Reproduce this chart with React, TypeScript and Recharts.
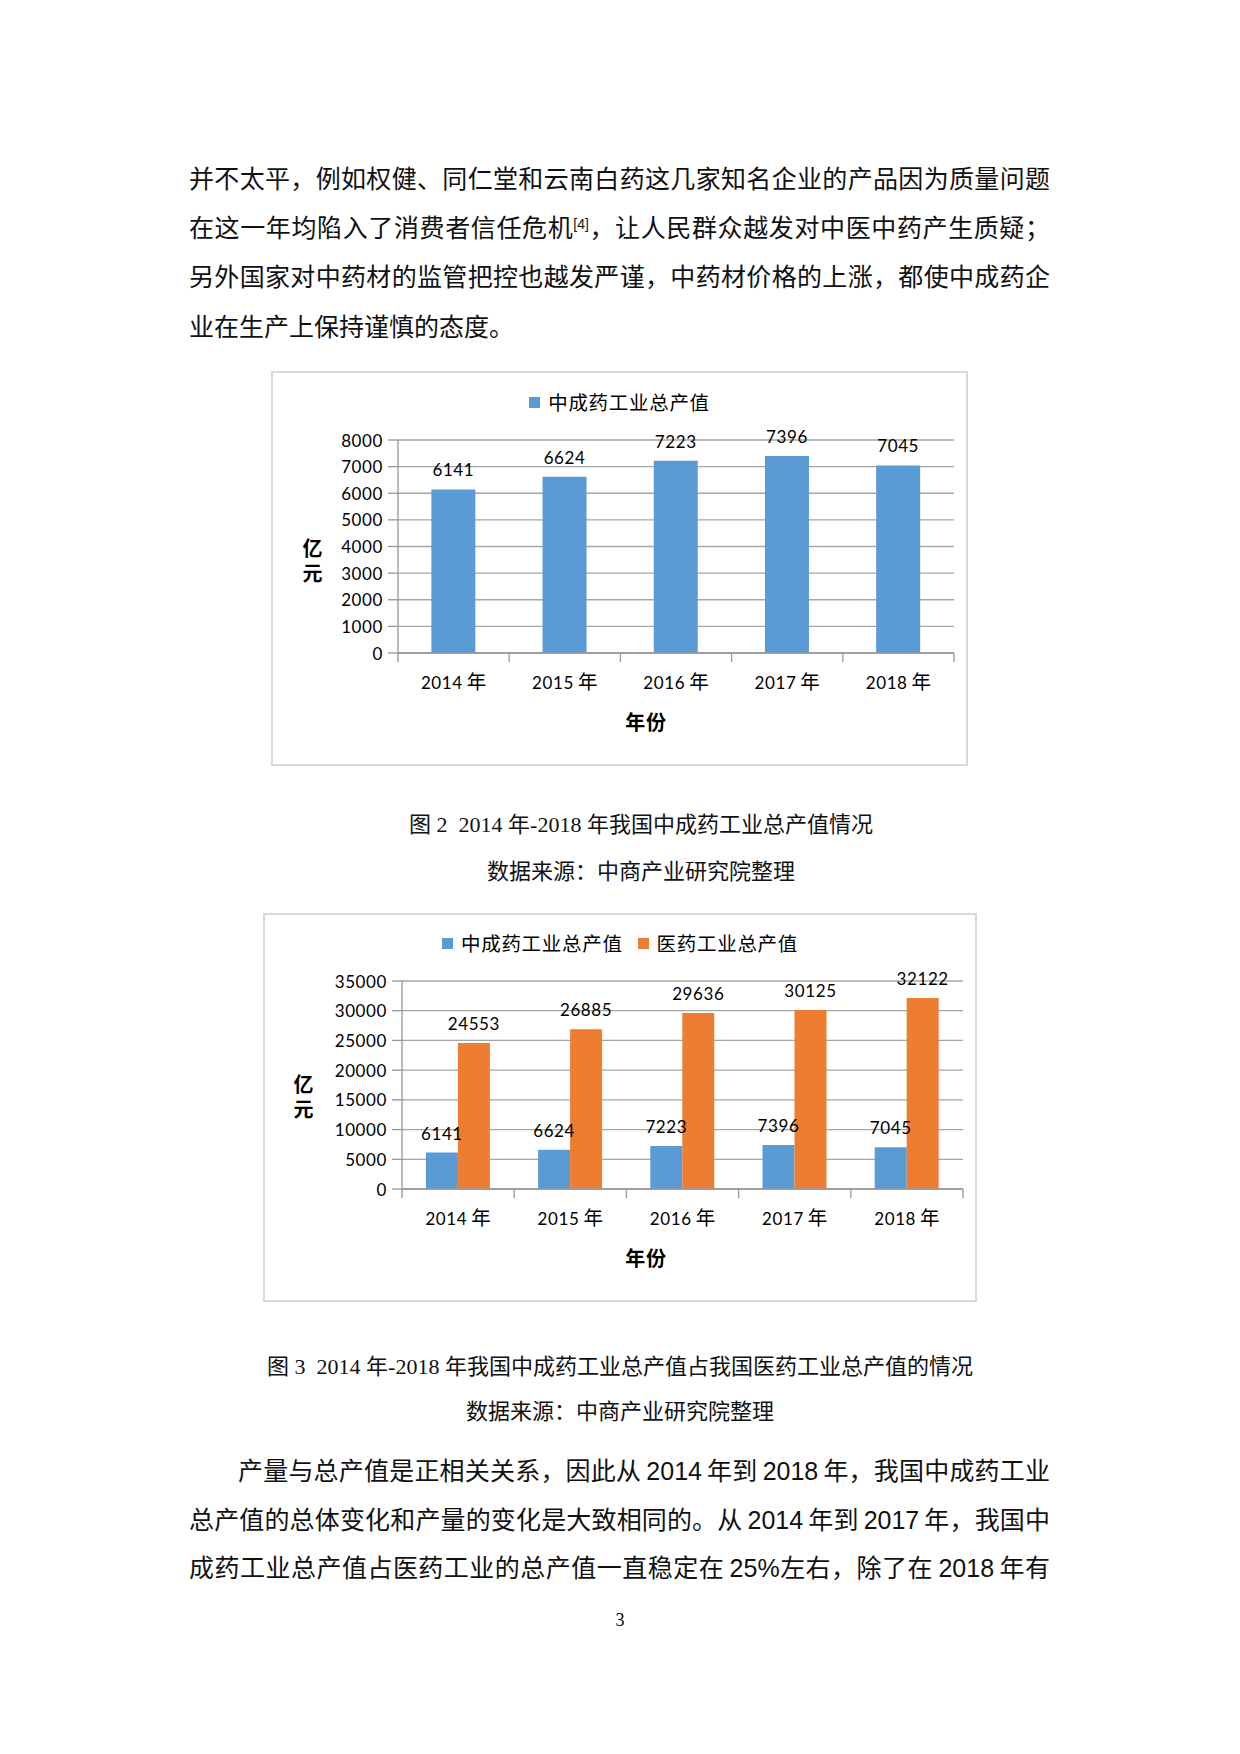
import React from 'react';
import { BarChart, Bar, XAxis, YAxis, CartesianGrid, LabelList } from 'recharts';

// data
const years = ['2014', '2015', '2016', '2017', '2018'];
const tcmOutput = [6141, 6624, 7223, 7396, 7045];
const pharmaOutput = [24553, 26885, 29636, 30125, 32122];
const fig2Ticks = [0, 1000, 2000, 3000, 4000, 5000, 6000, 7000, 8000];
const fig3Ticks = [0, 5000, 10000, 15000, 20000, 25000, 30000, 35000];
const tcmName = '中成药工业总产值';
const pharmaName = '医药工业总产值';
const unitLabel = '亿元';
const xTitle = '年份';

const topLines = [
  '并不太平，例如权健、同仁堂和云南白药这几家知名企业的产品因为质量问题',
  'SUP',
  '另外国家对中药材的监管把控也越发严谨，中药材价格的上涨，都使中成药企',
  '业在生产上保持谨慎的态度。',
];
const bottomLines = [
  '产量与总产值是正相关关系，因此从 2014 年到 2018 年，我国中成药工业',
  '总产值的总体变化和产量的变化是大致相同的。从 2014 年到 2017 年，我国中',
  '成药工业总产值占医药工业的总产值一直稳定在 25%左右，除了在 2018 年有',
];

const BLUE = '#5B9BD5';
const ORANGE = '#ED7D31';
const GRID = '#A6A6A6';
const AXIS = '#969696';
const LATO = 'Lato, "Noto Sans CJK SC", sans-serif';
const CJK = '"Noto Sans CJK SC", sans-serif';
const BODY = '"Liberation Sans", "Noto Sans CJK SC", sans-serif';
const CAPTION = '"Liberation Serif", "Noto Sans CJK SC", serif';

const rows = years.map((y, i) => ({ year: y, tcm: tcmOutput[i], pharma: pharmaOutput[i] }));

type Series = { key: string; name: string; color: string };

function ChartBox(props: {
  left: number; top: number; width: number; height: number;
  plot: { left: number; top: number; right: number; bottom: number };
  ticks: number[]; series: Series[]; gap: string;
  unitAt: [number, number]; titleAt: [number, number]; legendY: number;
}) {
  const { left, top, width, height, plot, ticks, series, gap, unitAt, titleAt, legendY } = props;
  const yW = 70;
  const xH = 40;
  const plotW = plot.right - plot.left;
  const half = plotW / years.length / 2;
  const last = years.length - 1;

  const xTick = (p: any) => {
    const { x, y, index, payload } = p;
    return (
      <g>
        <line x1={x - half} x2={x - half} y1={y} y2={y + 9} stroke={AXIS} strokeWidth={1.3} />
        {index === last && <line x1={x + half} x2={x + half} y1={y} y2={y + 9} stroke={AXIS} strokeWidth={1.3} />}
        <text x={x} y={y + 36} textAnchor="middle" fill="#000">
          <tspan fontFamily={LATO} fontSize={17} style={{ letterSpacing: 0.6 }}>{payload.value}</tspan>
          <tspan dx={4} fontFamily={CJK} fontSize={19.5}>年</tspan>
        </text>
      </g>
    );
  };

  const yTick = (p: any) => (
    <text x={p.x} y={p.y} textAnchor="end" dominantBaseline="central" fontFamily={LATO}
      fontSize={17} fill="#000" style={{ letterSpacing: 0.6 }}>
      {p.payload.value}
    </text>
  );

  const valueLabel = (p: any) => (
    <text x={p.x + p.width / 2} y={p.y - 13} textAnchor="middle" fontFamily={LATO}
      fontSize={17} fill="#000" style={{ letterSpacing: 0.6 }}>
      {p.value}
    </text>
  );

  return (
    <div style={{ position: 'absolute', left, top, width, height, outline: '2px solid #D9D9D9', outlineOffset: -2 }}>
      <div style={{ position: 'absolute', left: 0, right: 0, top: legendY - 12, height: 24, display: 'flex',
        justifyContent: 'center', alignItems: 'center', gap: 15, fontFamily: CJK, fontSize: 19.5, letterSpacing: 0.7 }}>
        {series.map((s) => (
          <div key={s.key} style={{ display: 'flex', alignItems: 'center' }}>
            <span style={{ width: 11, height: 11, background: s.color, marginRight: 8 }} />
            <span style={{ lineHeight: '24px' }}>{s.name}</span>
          </div>
        ))}
      </div>
      <div style={{ position: 'absolute', left: unitAt[0] - 12, top: unitAt[1] - 25, width: 24, height: 50,
        writingMode: 'vertical-rl', textOrientation: 'upright', fontFamily: CJK, fontWeight: 'bold',
        fontSize: 20, lineHeight: '24px', letterSpacing: 5 } as React.CSSProperties}>
        {unitLabel}
      </div>
      <div style={{ position: 'absolute', left: titleAt[0] - 40, top: titleAt[1] - 12, width: 80, fontFamily: CJK,
        fontWeight: 'bold', fontSize: 20, lineHeight: '24px', textAlign: 'center', letterSpacing: 0.7 }}>
        {xTitle}
      </div>
      <div style={{ position: 'absolute', left: 0, top: 0 }}>
        <BarChart width={width} height={height} data={rows} barGap={0} barCategoryGap={gap}
          margin={{ top: plot.top, right: width - plot.right, bottom: height - plot.bottom - xH, left: plot.left - yW }}>
          <CartesianGrid vertical={false} stroke={GRID} strokeWidth={1.3} />
          <XAxis dataKey="year" height={xH} interval={0} tickLine={false} tickSize={0} tickMargin={0}
            axisLine={{ stroke: AXIS, strokeWidth: 1.3 }} tick={xTick} />
          <YAxis width={yW} domain={[ticks[0], ticks[ticks.length - 1]]} ticks={ticks} interval={0}
            tickSize={10} tickMargin={5} tickLine={{ stroke: AXIS, strokeWidth: 1.3 }}
            axisLine={{ stroke: AXIS, strokeWidth: 1.3 }} tick={yTick} />
          {series.map((s) => (
            <Bar key={s.key} dataKey={s.key} name={s.name} fill={s.color} isAnimationActive={false}>
              <LabelList dataKey={s.key} content={valueLabel} />
            </Bar>
          ))}
        </BarChart>
      </div>
    </div>
  );
}

function TextLine({ center, children, indent = 0, last = false }: any) {
  return (
    <div style={{ position: 'absolute', left: 189, top: center - 24.5, width: 861, height: 49, lineHeight: '49px',
      fontFamily: BODY, fontSize: 25, color: '#111', whiteSpace: 'nowrap', paddingLeft: indent, boxSizing: 'border-box',
      textAlign: 'justify', textAlignLast: last ? 'left' : 'justify', wordSpacing: -2 } as React.CSSProperties}>
      {children}
    </div>
  );
}

function Caption({ center, cx, text }: { center: number; cx: number; text: string }) {
  return (
    <div style={{ position: 'absolute', left: cx - 500, width: 1000, top: center - 15, height: 30, lineHeight: '30px',
      textAlign: 'center', fontFamily: CAPTION, fontSize: 22, color: '#111', whiteSpace: 'pre' }}>
      {text}
    </div>
  );
}

export default function App() {
  const topCenters = [179, 228, 277, 327];
  const bottomCenters = [1471, 1520, 1568];
  return (
    <div style={{ position: 'absolute', left: 0, top: 0, width: 1240, height: 1754, background: '#fff', overflow: 'hidden' }}>
      {topLines.map((t, i) => (
        <TextLine key={i} center={topCenters[i]} last={i === topLines.length - 1}>
          {t === 'SUP' ? (
            <>
              在这一年均陷入了消费者信任危机
              <sup style={{ fontSize: 14, lineHeight: 0, verticalAlign: 8 }}>[4]</sup>
              ，让人民群众越发对中医中药产生质疑；
            </>
          ) : t}
        </TextLine>
      ))}

      <ChartBox left={271} top={371} width={697} height={395}
        plot={{ left: 127, top: 69, right: 683, bottom: 282 }}
        ticks={fig2Ticks} series={[{ key: 'tcm', name: tcmName, color: BLUE }]} gap="30%"
        unitAt={[41, 192]} titleAt={[375, 351]} legendY={31} />

      <Caption center={825} cx={641} text="图 2  2014 年-2018 年我国中成药工业总产值情况" />
      <Caption center={872} cx={641} text="数据来源：中商产业研究院整理" />

      <ChartBox left={263} top={913} width={714} height={389}
        plot={{ left: 139, top: 68, right: 700, bottom: 276 }}
        ticks={fig3Ticks}
        series={[{ key: 'tcm', name: tcmName, color: BLUE }, { key: 'pharma', name: pharmaName, color: ORANGE }]}
        gap="21.3%" unitAt={[40, 186]} titleAt={[383, 345]} legendY={30} />

      <Caption center={1367} cx={620} text="图 3  2014 年-2018 年我国中成药工业总产值占我国医药工业总产值的情况" />
      <Caption center={1412} cx={620} text="数据来源：中商产业研究院整理" />

      {bottomLines.map((t, i) => (
        <TextLine key={i} center={bottomCenters[i]} indent={i === 0 ? 49 : 0}>{t}</TextLine>
      ))}

      <div style={{ position: 'absolute', left: 600, width: 40, top: 1608, height: 24, lineHeight: '24px',
        textAlign: 'center', fontFamily: CAPTION, fontSize: 18 }}>3</div>
    </div>
  );
}
